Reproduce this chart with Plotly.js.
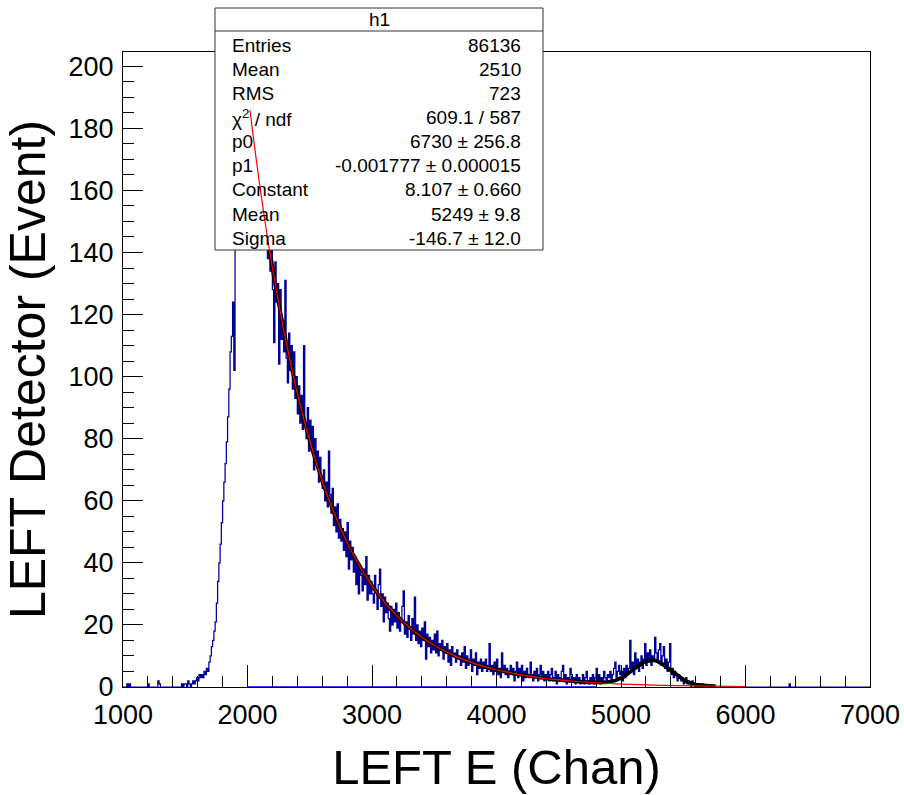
<!DOCTYPE html>
<html><head><meta charset="utf-8">
<script src="https://cdn.plot.ly/plotly-3.0.1.min.js"></script>
<style>html,body{margin:0;padding:0;background:#fff}#chart{width:904px;height:795px}</style>
</head><body><div id="chart"></div>
<script>
// ---------------- data ----------------
const binStart = 1000;      // lower edge of first bin (channels)
const binWidth = 10;        // channels per bin
const axisEnd = 7000;
// counts per bin, 1000 .. 5690 (10 per row = 100 channels)
const counts = [
  0,0,0,1,0,1,0,0,0,0,
  0,0,0,0,0,0,0,0,0,0,
  1,0,0,0,0,0,0,0,2,1,
  0,0,0,0,0,0,0,0,0,0,
  0,0,0,0,0,0,0,1,0,1,
  1,0,2,1,0,1,2,1,2,3,
  2,4,3,4,3,5,4,6,5,8,
  10,13,15,18,21,27,34,40,46,53,
  60,66,72,79,87,96,108,113,124,102,
  152,160,168,175,180,186,190,193,195,194,
  192,188,185,183,178,176,172,170,166,163,
  160,156,152,149,146,150,138,152,134,146,
  128,111,137,124,130,104,128,112,118,108,
  131,106,98,114,102,110,96,108,93,100,
  88,97,85,94,83,110,84,80,90,76,
  86,78,84,70,80,72,76,66,74,68,
  64,70,60,66,58,76,62,56,64,52,
  58,50,59,48,54,47,51,44,50,42,
  53,38,47,41,45,37,42,33,40,30,
  39,36,31,38,33,42,28,36,30,34,
  30,27,36,31,25,33,38,26,30,21,
  29,24,27,22,18,26,20,25,21,27,
  19,24,18,22,26,31,17,21,16,23,
  19,15,22,17,29,15,20,14,18,13,
  19,15,21,9,17,13,16,11,15,12,
  17,11,18,10,14,12,15,9,13,11,
  14,8,12,7,13,10,11,8,12,9,
  10,7,11,8,13,6,10,7,9,12,
  5,9,7,11,4,8,6,9,5,8,
  6,9,5,7,14,5,7,4,8,5,
  9,4,6,3,11,5,7,4,6,3,
  5,7,4,6,2,5,8,3,6,4,
  7,2,5,3,6,4,3,8,4,2,
  5,3,6,2,4,7,3,5,2,4,
  3,5,2,4,6,2,3,5,1,4,
  3,2,5,7,2,4,1,3,2,6,
  4,2,3,1,4,2,3,1,2,4,
  1,3,5,2,1,3,2,4,1,3,
  6,2,4,1,3,2,5,3,2,4,
  3,5,2,4,6,8,3,5,7,4,
  5,2,6,3,7,4,6,15,5,8,
  4,11,6,9,5,8,10,6,9,14,
  7,11,8,12,7,10,9,16,11,8,
  12,14,7,10,13,6,9,5,8,14,
  4,6,3,5,4,2,4,3,2,3,
  1,2,3,1,2,1,0,2,1,0,
  1,0,1,0,0,1,0,0,0,0
];
// isolated bins beyond the main array
const extraBinLow = [6350];
const extraCounts = [1];
// zero-level line segment seen along the bottom axis
const baseLineX = [2000, 4800];
const baseLineY = [0, 0];

// fit parameters (expo: p0*exp(p1*x), gaus: Constant, Mean, Sigma)
const expoP0 = 6730, expoP1 = -0.001777;
const gausConst = 8.107, gausMean = 5249, gausSigma = -146.7;
const expoRange = [2020, 6000];
const totalRange = [2020, 5760];

// stats box
const statsTitle = "h1";
const statsLabels = ["Entries","Mean","RMS","\u03c7<sup>2</sup> / ndf","p0","p1","Constant","Mean","Sigma"];
const statsValues = ["86136","2510","723","609.1 / 587","6730 \u00b1 256.8","-0.001777 \u00b1 0.000015","8.107 \u00b1 0.660","5249 \u00b1 9.8","-146.7 \u00b1 12.0"];

const xTitle = "LEFT E (Chan)";
const yTitle = "LEFT Detector (Event)";

// ---------------- build ----------------
const nFull = Math.round((axisEnd - binStart) / binWidth);
const full = [];
for (let i = 0; i < nFull; i++) full.push(i < counts.length ? counts[i] : 0);
extraBinLow.forEach((b, k) => { full[Math.round((b - binStart) / binWidth)] = extraCounts[k]; });
const hx = [], hy = [];
for (let i = 0; i < nFull; i++) { hx.push(binStart + i * binWidth); hy.push(full[i]); }
hx.push(axisEnd); hy.push(full[nFull - 1]);

const expo = x => expoP0 * Math.exp(expoP1 * x);
const gaus = x => gausConst * Math.exp(-0.5 * Math.pow((x - gausMean) / gausSigma, 2));
function sample(f, a, b, step) { const xs = [], ys = []; for (let x = a; x <= b + 1e-9; x += step) { xs.push(x); ys.push(f(x)); } return [xs, ys]; }
const [ex, ey] = sample(expo, expoRange[0], expoRange[1], 5);
const [tx, ty] = sample(x => expo(x) + gaus(x), totalRange[0], totalRange[1], 5);

const font = "Liberation Sans, Arial, Helvetica, sans-serif";

const traces = [
  {x: hx, y: hy, type: 'scatter', mode: 'lines', line: {shape: 'hv', color: '#000099', width: 1.25, simplify: false}, hoverinfo: 'skip'},
  {x: baseLineX, y: baseLineY, type: 'scatter', mode: 'lines', line: {color: '#3c3cff', width: 2}, hoverinfo: 'skip'},
  {x: tx, y: ty, type: 'scatter', mode: 'lines', line: {color: '#000000', width: 3.8}, hoverinfo: 'skip'},
  {x: ex, y: ey, type: 'scatter', mode: 'lines', line: {color: '#ff0000', width: 1.2}, hoverinfo: 'skip'}
];

// plot geometry
const W = 904, H = 795, mL = 123, mR = 34, mT = 52, mB = 108;
const pw = W - mL - mR, ph = H - mT - mB;
const px = p => (p - mL) / pw;         // pixel -> paper x
const py = p => (H - mB - p) / ph;     // pixel -> paper y

// stats box geometry
const boxL = 215, boxR = 543, boxT = 8, boxB = 250, sepY = 31;
const rowTop = 45.7, rowStep = 24.05;

// red line part that passes over the stats box
const overlay = sample(expo, expoRange[0], 2180, 10);
let redPath = '';
overlay[0].forEach((x, i) => { redPath += (i ? ' L ' : 'M ') + x + ',' + overlay[1][i]; });

const shapes = [
  {type: 'rect', xref: 'paper', yref: 'paper', x0: px(boxL), x1: px(boxR), y0: py(boxB), y1: py(boxT),
   fillcolor: '#ffffff', line: {color: '#333333', width: 1}, layer: 'above'},
  {type: 'line', xref: 'paper', yref: 'paper', x0: px(boxL), x1: px(boxR), y0: py(sepY), y1: py(sepY),
   line: {color: '#333333', width: 1}, layer: 'above'},
  {type: 'path', xref: 'x', yref: 'y', path: redPath, line: {color: '#ff0000', width: 1.2}, layer: 'above'}
];

const boxFont = {family: font, size: 19, color: '#000'};
const annotations = [{
  xref: 'paper', yref: 'paper', x: px((boxL + boxR) / 2), y: py(19.5), xanchor: 'center', yanchor: 'middle',
  text: statsTitle, showarrow: false, font: boxFont
}];
statsLabels.forEach((lab, i) => {
  const yy = py(rowTop + i * rowStep);
  annotations.push({xref: 'paper', yref: 'paper', x: px(230), y: yy, xanchor: 'left', yanchor: 'middle',
    text: lab, showarrow: false, font: boxFont});
  annotations.push({xref: 'paper', yref: 'paper', x: px(523), y: yy, xanchor: 'right', yanchor: 'middle',
    text: statsValues[i], showarrow: false, font: boxFont});
});

const layout = {
  width: W, height: H,
  margin: {l: mL, r: mR, t: mT, b: mB, pad: 0},
  paper_bgcolor: '#ffffff', plot_bgcolor: '#ffffff',
  showlegend: false,
  xaxis: {
    range: [binStart, axisEnd], tick0: 1000, dtick: 1000, ticks: 'inside', ticklen: 22, tickwidth: 1, tickcolor: '#000',
    minor: {dtick: 200, ticks: 'inside', ticklen: 11, tickwidth: 1, tickcolor: '#000', showgrid: false},
    showline: true, mirror: true, linecolor: '#000', linewidth: 1, showgrid: false, zeroline: false,
    tickfont: {family: font, size: 27, color: '#000'}, ticklabelstandoff: 4,
    title: {text: xTitle, font: {family: font, size: 49, color: '#000'}, standoff: 20},
    fixedrange: true
  },
  yaxis: {
    range: [0, 204.6], tick0: 0, dtick: 20, ticks: 'inside', ticklen: 20, tickwidth: 1, tickcolor: '#000',
    minor: {dtick: 5, ticks: 'inside', ticklen: 11, tickwidth: 1, tickcolor: '#000', showgrid: false},
    showline: true, mirror: true, linecolor: '#000', linewidth: 1, showgrid: false, zeroline: false,
    tickfont: {family: font, size: 27, color: '#000'}, ticklabelstandoff: 3,
    title: {text: yTitle, font: {family: font, size: 50, color: '#000'}, standoff: 12},
    fixedrange: true
  },
  shapes: shapes,
  annotations: annotations
};

Plotly.newPlot('chart', traces, layout, {displayModeBar: false, staticPlot: true});
</script>
</body></html>
